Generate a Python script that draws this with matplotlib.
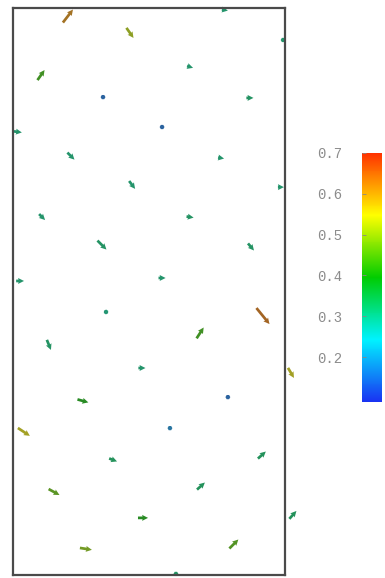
import numpy as np
import matplotlib
matplotlib.use("Agg")
import matplotlib.pyplot as plt
from matplotlib.colors import LinearSegmentedColormap, Normalize

# ---- data (domain units: x in [0,1], y in [0,2.085]) ----
x = [0.202, 0.430, 0.779, 0.103, 0.651, 0.331, 0.871, 0.993, 0.548, 0.018,
     0.213, 0.765, 0.438, 0.985, 0.107, 0.651, 0.327, 0.875, 0.026, 0.548,
     0.342, 0.919, 0.688, 0.132, 0.474, 1.022, 0.790, 0.257, 0.577, 0.040,
     0.368, 0.915, 0.151, 0.691, 0.478, 1.029, 0.268, 0.812, 0.599]
y = [2.055, 1.993, 2.077, 1.838, 1.868, 1.757, 1.754, 1.967, 1.647, 1.629,
     1.540, 1.533, 1.434, 1.426, 1.316, 1.316, 1.213, 1.206, 1.081, 1.092,
     0.967, 0.952, 0.890, 0.846, 0.761, 0.743, 0.654, 0.640, 0.540, 0.526,
     0.423, 0.441, 0.305, 0.327, 0.210, 0.221, 0.096, 0.114, 0.004]
u = [0.037, 0.026, 0.022, 0.026, 0.022, 0.003, 0.026, 0.011, 0.003, 0.029,
     0.026, 0.022, 0.022, 0.022, 0.022, 0.026, 0.033, 0.022, 0.029, 0.026,
     0.011, 0.048, 0.026, 0.015, 0.026, 0.022, 0.003, 0.040, 0.003, 0.044,
     0.029, 0.029, 0.040, 0.029, 0.037, 0.026, 0.044, 0.033, 0.015]
v = [0.048, -0.037, -0.004, 0.037, -0.007, 0.000, 0.000, 0.000, 0.000, -0.004,
     -0.026, -0.004, -0.029, 0.000, -0.022, -0.004, -0.033, -0.026, 0.000, 0.000,
     -0.007, -0.059, 0.040, -0.037, 0.000, -0.037, 0.000, -0.011, 0.000, -0.029,
     -0.011, 0.026, -0.022, 0.026, 0.000, 0.029, -0.007, 0.033, 0.000]
speed = [0.62, 0.52, 0.31, 0.43, 0.31, 0.15, 0.32, 0.31, 0.15, 0.31,
         0.31, 0.31, 0.31, 0.31, 0.31, 0.32, 0.32, 0.32, 0.31, 0.31,
         0.30, 0.64, 0.43, 0.32, 0.31, 0.55, 0.15, 0.40, 0.18, 0.55,
         0.33, 0.33, 0.46, 0.33, 0.40, 0.33, 0.49, 0.45, 0.32]
cbar_ticks = [0.2, 0.3, 0.4, 0.5, 0.6, 0.7]
vmin, vmax = 0.09, 0.7

# ---- colormaps ----
stops = [(0.0, (0.1, 0.2, 0.95)), (0.25, (0.0, 0.95, 1.0)), (0.5, (0.0, 0.8, 0.0)),
         (0.75, (1.0, 1.0, 0.0)), (1.0, (1.0, 0.2, 0.0))]
cmap = LinearSegmentedColormap.from_list("rb", stops)
dark = LinearSegmentedColormap.from_list(
    "rb_dark", [(p, tuple(0.5 * c + 0.14 for c in col)) for p, col in stops])
norm = Normalize(vmin=vmin, vmax=vmax)

fig = plt.figure(figsize=(3.85, 5.78), dpi=100)
ax = fig.add_axes([13 / 385, 3 / 578, 272 / 385, 567 / 578])
ax.set_xlim(0, 1)
ax.set_ylim(0, 567 / 272)
ax.set_xticks([])
ax.set_yticks([])
for s in ax.spines.values():
    s.set_color("#4a4a4a")
    s.set_linewidth(1.6)

q = ax.quiver(x, y, u, v, speed, cmap=dark, norm=norm, angles="xy",
              scale_units="xy", scale=1, pivot="middle", width=0.010,
              headwidth=2.2, headlength=2.2, headaxislength=2.0,
              minlength=1.8, minshaft=1)
q.set_clip_on(False)

cax = fig.add_axes([362 / 385, (578 - 402) / 578, 20 / 385, 249 / 578])
sm = plt.cm.ScalarMappable(norm=norm, cmap=cmap)
cb = fig.colorbar(sm, cax=cax, ticks=cbar_ticks)
cb.outline.set_visible(False)
cax.yaxis.set_ticks_position("left")
cax.yaxis.set_label_position("left")
cax.tick_params(axis="y", direction="in", length=3, width=0.6, color="#888888",
                pad=14, labelsize=10, labelcolor="#8c8c8c")
cax.set_yticklabels([f"{t:.1f}" for t in cbar_ticks], family="Liberation Mono")

fig.savefig("out.png", dpi=100)
